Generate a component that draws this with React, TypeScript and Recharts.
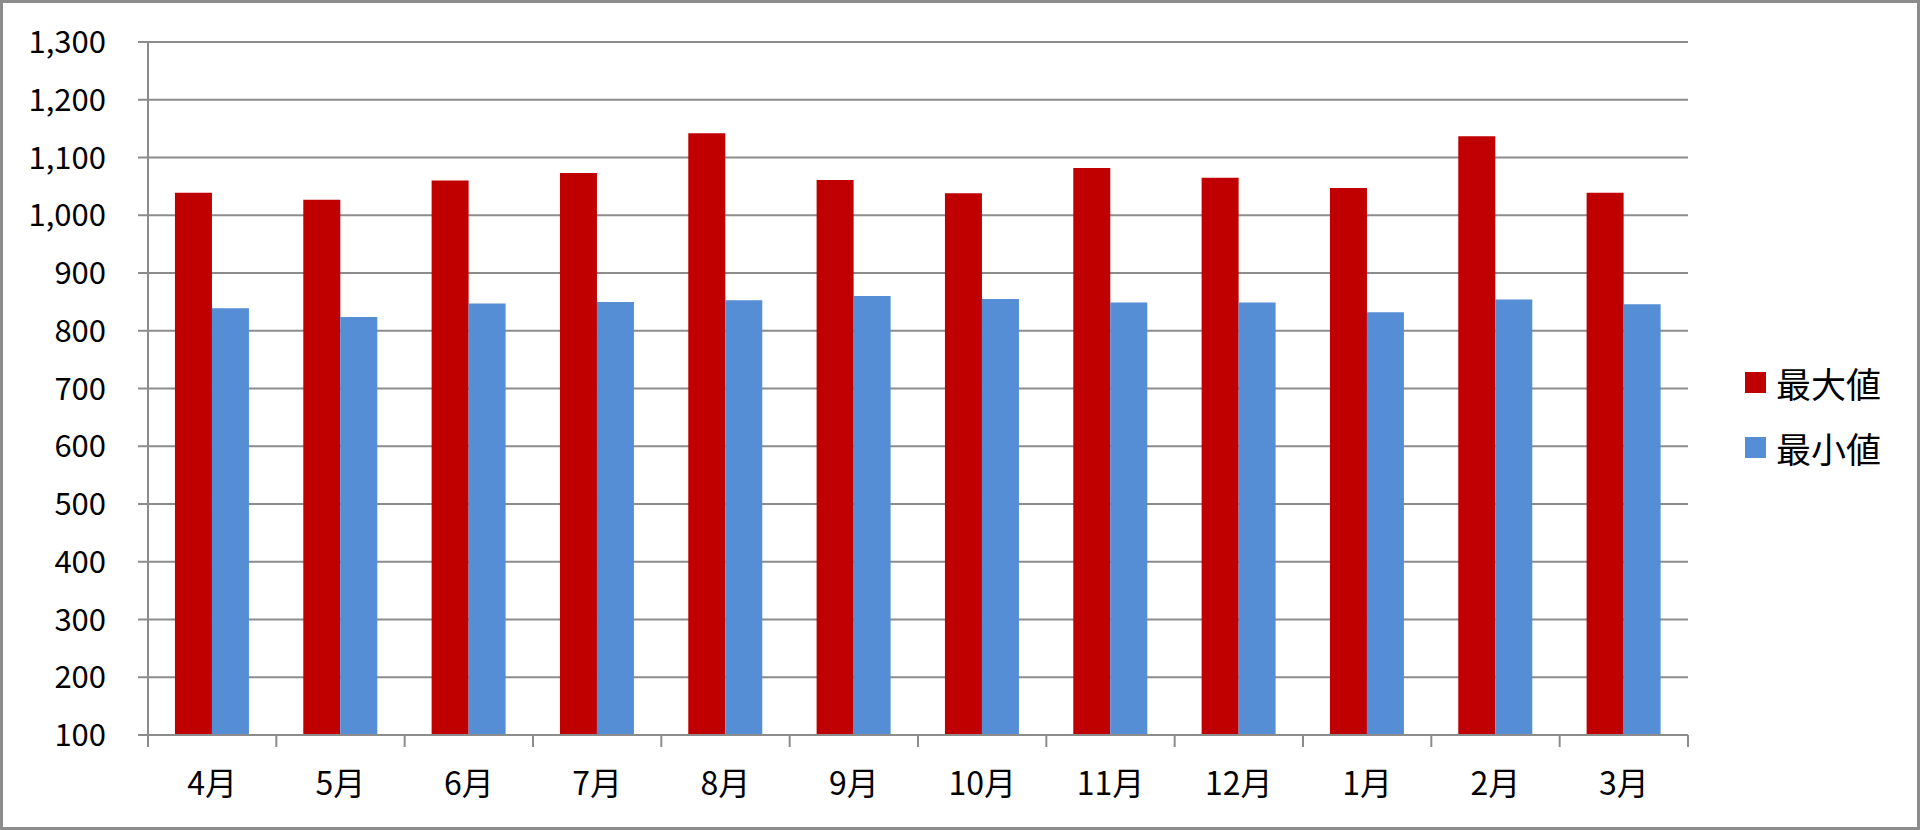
import { BarChart, Bar, XAxis, YAxis, CartesianGrid, Legend } from 'recharts';

const months = ['4月', '5月', '6月', '7月', '8月', '9月', '10月', '11月', '12月', '1月', '2月', '3月'];
const maxValues = [1039, 1027, 1060, 1073, 1142, 1061, 1038, 1082, 1065, 1047, 1137, 1039];
const minValues = [839, 824, 847, 850, 853, 860, 855, 849, 849, 832, 854, 846];
const yTicks = [100, 200, 300, 400, 500, 600, 700, 800, 900, 1000, 1100, 1200, 1300];

const seriesNames = { max: '最大値', min: '最小値' };

const GRID = '#8c8c8c';
const FONT = '"Noto Sans CJK JP", "Noto Sans", sans-serif';

const chartData = months.map((month, i) => ({
  month,
  max: maxValues[i],
  min: minValues[i],
}));

// Excel puts category ticks on the boundaries, not at the centres
function MonthTick(props: any) {
  const { x, y, payload, index } = props;
  const half = payload?.offset ?? 64.17;
  return (
    <g>
      <line x1={x - half} x2={x - half} y1={y} y2={y + 12} stroke={GRID} strokeWidth={2} />
      {index === months.length - 1 && (
        <line x1={x + half} x2={x + half} y1={y} y2={y + 12} stroke={GRID} strokeWidth={2} />
      )}
      <text x={x} y={y + 60} textAnchor="middle" fontSize={32} fontFamily={FONT} fill="#000">
        {payload.value}
      </text>
    </g>
  );
}

function LegendList(props: any) {
  const items = props.payload || [];
  return (
    <div style={{ fontFamily: FONT }}>
      {items.map((entry: any) => (
        <div key={entry.value} style={{ display: 'flex', alignItems: 'center', height: 65 }}>
          <span style={{ width: 21, height: 21, background: entry.color, display: 'inline-block', marginRight: 10 }} />
          <span style={{ fontSize: 35, color: '#000', lineHeight: 1 }}>{entry.value}</span>
        </div>
      ))}
    </div>
  );
}

export default function App() {
  return (
    <div style={{ position: 'absolute', left: 0, top: 0, width: 1920, height: 830, background: '#fff' }}>
      <BarChart
        width={1920}
        height={830}
        data={chartData}
        margin={{ top: 42, right: 232, bottom: 0, left: 0 }}
        barCategoryGap="21%"
        barGap={0}
      >
        <CartesianGrid vertical={false} stroke={GRID} strokeWidth={2} />
        <XAxis
          dataKey="month"
          height={95}
          tickLine={false}
          tickSize={0}
          tickMargin={0}
          axisLine={{ stroke: GRID, strokeWidth: 2 }}
          tick={<MonthTick />}
          interval={0}
        />
        <YAxis
          width={148}
          type="number"
          domain={[100, 1300]}
          ticks={yTicks}
          interval={0}
          tickSize={10}
          tickMargin={32}
          tickLine={{ stroke: GRID, strokeWidth: 2 }}
          axisLine={{ stroke: GRID, strokeWidth: 2 }}
          tick={{ fontSize: 31, fontFamily: FONT, fill: '#000' }}
          tickFormatter={(v: number) => v.toLocaleString('en-US')}
        />
        <Legend
          layout="horizontal"
          verticalAlign="middle"
          content={<LegendList />}
          wrapperStyle={{ left: 1745, top: 350, width: 175 }}
        />
        <Bar dataKey="max" name={seriesNames.max} fill="#C00000" isAnimationActive={false} />
        <Bar dataKey="min" name={seriesNames.min} fill="#558ED5" isAnimationActive={false} />
      </BarChart>
      <div
        style={{
          position: 'absolute',
          inset: 0,
          border: '3px solid #8c8c8c',
          pointerEvents: 'none',
        }}
      />
    </div>
  );
}
